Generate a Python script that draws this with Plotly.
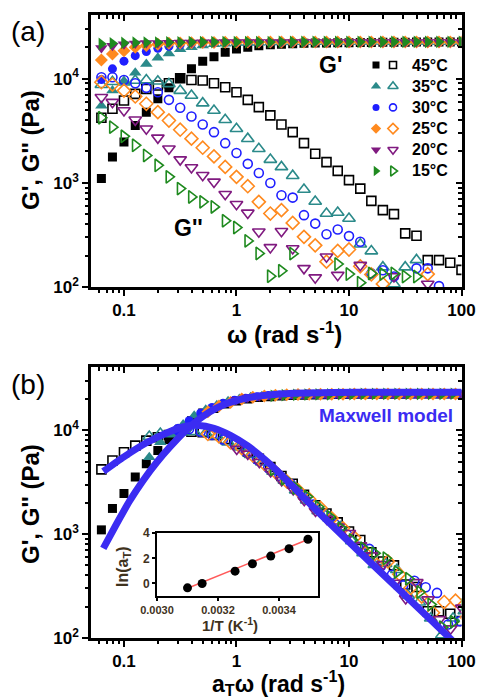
import math
import plotly.graph_objects as go

# ---------------- data ----------------
omega = [0.063, 0.079, 0.1, 0.126, 0.158, 0.2, 0.251, 0.316, 0.398, 0.501, 0.631,
         0.794, 1.0, 1.26, 1.58, 2.0, 2.51, 3.16, 3.98, 5.01, 6.31, 7.94, 10.0,
         12.6, 15.8, 20.0, 25.1, 31.6, 39.8, 50.1, 63.1, 79.4, 100.0]

temps = ["45°C", "35°C", "30°C", "25°C", "20°C", "15°C"]

gp_45 = [1100, 1770, 2460, 3550, 4760, 6400, 8150, 10100, 12400, 14700, 16200, 17900, 19200,
         20000, 20700, 21100, 21400, 21600, 21800, 21900, 22000, 22100, 22100, 22200, 22200,
         22300, 22300, 22300, 22400, 22400, 22400, 22400, 22400]
gp_35 = [5500, 7670, 9330, 11400, 13800, 15800, 17400, 19100, 20000, 20800, 21300, 21600, 21900,
         22000, 22100, 22200, 22200, 22300, 22300, 22300, 22400, 22400, 22400, 22400, 22400,
         22400, 22400, 22400, 22400, 22400, 22400, 22400, 22400]
gp_30 = [9770, 12400, 14700, 16600, 18200, 19500, 20400, 21100, 21600, 21900, 22000, 22100, 22200,
         22200, 22300, 22300, 22400, 22400, 22400, 22400, 22400, 22400, 22400, 22400, 22400,
         22400, 22400, 22400, 22400, 22400, 22400, 22400, 22400]
gp_25 = [15100, 17200, 18500, 20000, 20800, 21400, 21800, 22000, 22100, 22200, 22200, 22300, 22300,
         22400, 22400, 22400, 22400, 22400, 22400, 22400, 22400, 22400, 22400, 22400, 22400,
         22400, 22400, 22400, 22400, 22400, 22400, 22400, 22400]
gp_20 = [19700, 20700, 21300, 21700, 21900, 22000, 22100, 22200, 22200, 22300, 22300, 22400, 22400,
         22400, 22400, 22400, 22400, 22400, 22400, 22400, 22400, 22400, 22400, 22400, 22400,
         22400, 22400, 22400, 22400, 22400, 22400, 22400, 22400]
gp_15 = [21500, 21800, 22000, 22100, 22200, 22200, 22300, 22300, 22400, 22400, 22400, 22400, 22400,
         22400, 22400, 22400, 22500, 22500, 22500, 22500, 22500, 22500, 22500, 22500, 22500,
         22500, 22500, 22500, 22500, 22500, 22500, 22500, 22500]

gpp_45 = [4210, 5130, 6150, 7130, 7960, 8570, 9020, 10070, 9700, 9570, 9020, 8260, 7400, 6250,
          5320, 4430, 3630, 3060, 2400, 1900, 1580, 1300, 1060, 879, 670, 546, 500, 327, 310,
          181, 181, 171, 146]
gpp_35 = [8710, 9330, 9230, 9570, 9700, 9420, 8890, 7670, 6870, 5810, 4940, 4020, 3300, 2650,
          2120, 1670, 1420, 1170, 861, 661, 507, 519, 454, 257, 221, 155, 107, 155, 182,
          None, None, None, None]
gpp_30 = [10300, 10300, 9700, 9020, 8150, 7400, 6250, 5240, 4330, 3630, 3060, 2400, 1930, 1520,
          1240, 995, 759, 721, 489, 406, 321, 356, 308, 272, 135, 145, 126, None, 151, 151, 102,
          None, None]
gpp_25 = [9230, 8770, 7670, 6730, 5730, 4760, 3960, 3230, 2650, 2170, 1790, 1420, 1140, 927,
          656, 507, 546, 412, 303, 251, 175, 222, 229, 158, 132, 107, None, None, None, 133,
          None, None, None]
gpp_20 = [6620, 5940, 4940, 4020, 3300, 2700, 2120, 1670, 1400, 1180, 1020, 776, 622, 514,
          339, 240, 343, 234, 151, 123, 195, 130, None, 162, None, None, 126, None, None, 107,
          None, None, None]
gpp_15 = [4210, 3420, 2790, 2290, 1830, 1470, 1140, 879, 731, 656, 587, 432, 372, 277, 210,
          127, 143, 209, None, None, None, 166, 133, 110, 135, 133, 135, 126, 126,
          None, None, None, None]

# inset: shift factors
inv_T = [0.003100, 0.003148, 0.003256, 0.003313, 0.003373, 0.003433, 0.003495]
ln_aT = [-0.35, 0.0, 0.98, 1.57, 2.18, 2.77, 3.52]
fit_x = [0.003100, 0.003495]
fit_y = [-0.38, 3.50]
# ln(aT) for the six temperatures of panel (a) (45, 35, 30, 25, 20, 15 °C)
ln_aT_temps = [0.0, 0.98, 1.57, 2.18, 2.77, 3.52]

# Maxwell model curves
mx_gp_x = [0.0655, 0.0861, 0.113, 0.1486, 0.195, 0.2564, 0.3365, 0.4426, 0.5808, 0.762,
           1.072, 1.507, 2.98, 11.7, 100.0]
mx_gp_y = [730, 1259, 2113, 3311, 4898, 6918, 9441, 12300, 15140, 17580, 19820, 21280,
           22650, 23230, 23280]
mx_gpp_x = [0.0655, 0.1, 0.1585, 0.251, 0.355, 0.447, 0.631, 0.891, 1.259, 1.778, 2.512,
            3.98, 7.94, 19.95, 39.8, 78.5, 89.1]
mx_gpp_y = [4018, 5560, 7590, 9660, 10960, 11170, 10470, 8910, 7080, 5250, 3720,
            2240, 1070, 412, 202, 100, 87]

gp_all = [gp_45, gp_35, gp_30, gp_25, gp_20, gp_15]
gpp_all = [gpp_45, gpp_35, gpp_30, gpp_25, gpp_20, gpp_15]

# ---------------- styles ----------------
colors = ["#000000", "#2b8a8a", "#1f1fff", "#ff8a1f", "#801a80", "#1f8a1f"]
symbols = ["square", "triangle-up", "circle", "diamond", "triangle-down", "triangle-right"]
msize = [9, 11, 9, 10, 11, 11]
FONT = "Liberation Sans, Arial, sans-serif"
W, H = 478, 700
MODEL_BLUE = "#3b2cf2"
INSET_TXT = "#3f321d"

fig = go.Figure()


def add_series(xaxis, yaxis, xs_list):
    for k in range(6):
        xs = xs_list[k]
        fig.add_trace(go.Scatter(
            x=xs, y=gp_all[k], mode="markers", xaxis=xaxis, yaxis=yaxis, showlegend=False,
            marker=dict(symbol=symbols[k], size=msize[k], color=colors[k], line=dict(width=0)),
            cliponaxis=True))
        fig.add_trace(go.Scatter(
            x=xs, y=gpp_all[k], mode="markers", xaxis=xaxis, yaxis=yaxis, showlegend=False,
            marker=dict(symbol=symbols[k] + "-open", size=msize[k], color=colors[k],
                        line=dict(width=1.6, color=colors[k])),
            cliponaxis=True))


# panel (a)
add_series("x", "y", [omega] * 6)

# panel (b) : shifted data (a_T * omega)
shifted = [[w * math.exp(a) for w in omega] for a in ln_aT_temps]
add_series("x2", "y2", shifted)
fig.add_trace(go.Scatter(x=mx_gp_x, y=mx_gp_y, mode="lines", xaxis="x2", yaxis="y2",
                         line=dict(color=MODEL_BLUE, width=7, shape="spline", smoothing=0.6),
                         showlegend=False))
fig.add_trace(go.Scatter(x=mx_gpp_x, y=mx_gpp_y, mode="lines", xaxis="x2", yaxis="y2",
                         line=dict(color=MODEL_BLUE, width=7, shape="spline", smoothing=0.6),
                         showlegend=False))

# inset
fig.add_trace(go.Scatter(x=fit_x, y=fit_y, mode="lines", xaxis="x3", yaxis="y3",
                         line=dict(color="#ff5a5a", width=1.5), showlegend=False))
fig.add_trace(go.Scatter(x=inv_T, y=ln_aT, mode="markers", xaxis="x3", yaxis="y3",
                         marker=dict(color="black", size=9), showlegend=False))

# legend keys (panel a)
rows = list(range(len(temps)))
for k in range(6):
    fig.add_trace(go.Scatter(x=[0], y=[rows[k]], mode="markers", xaxis="x4", yaxis="y4",
                             marker=dict(symbol=symbols[k], size=msize[k] - 2, color=colors[k]),
                             showlegend=False))
    fig.add_trace(go.Scatter(x=[1], y=[rows[k]], mode="markers", xaxis="x4", yaxis="y4",
                             marker=dict(symbol=symbols[k] + "-open", size=msize[k] - 2,
                                         color=colors[k], line=dict(width=1.6, color=colors[k])),
                             showlegend=False))

# invisible traces for mirror axes
for xa, ya in [("x5", "y5"), ("x6", "y6")]:
    fig.add_trace(go.Scatter(x=[None], y=[None], xaxis=xa, yaxis=ya, showlegend=False,
                             hoverinfo="skip"))

# ---------------- axes ----------------
xr = [-1.293, 2.0]
yr = [2.0, 4.61]
xmaj = [0.1, 1, 10, 100]
xmin = [m * 10 ** d for d in (-2, -1, 0, 1) for m in range(2, 10) if 0.05 < m * 10 ** d < 100]
ymaj = [100, 1000, 10000]
ymin = [m * 10 ** d for d in (2, 3, 4) for m in range(2, 10) if m * 10 ** d < 40000]

dom_x = [91 / W, 461.5 / W]
dom_ya = [1 - 287 / H, 1 - 15 / H]
dom_yb = [1 - 638 / H, 1 - 367 / H]

tickfont = dict(family=FONT, size=17, color="black", weight="bold")


def main_x(dom_anchor):
    return dict(type="log", range=xr, domain=dom_x, anchor=dom_anchor, showline=True,
                linewidth=2.5, linecolor="black", mirror=True, ticks="outside", ticklen=6,
                tickwidth=2, tickcolor="black", tickvals=xmaj,
                ticktext=["0.1", "1", "10", "100"], tickfont=tickfont, showgrid=False,
                zeroline=False,
                minor=dict(tickvals=xmin, ticks="outside", ticklen=3.5, tickwidth=1.5,
                           tickcolor="black", showgrid=False))


def main_y(dom, anchor):
    return dict(type="log", range=yr, domain=dom, anchor=anchor, showline=True,
                linewidth=2.5, linecolor="black", mirror=True, ticks="outside", ticklen=6,
                tickwidth=2, tickcolor="black", tickvals=ymaj,
                ticktext=["10<sup>2</sup>", "10<sup>3</sup>", "10<sup>4</sup>"],
                tickfont=tickfont, showgrid=False, zeroline=False,
                minor=dict(tickvals=ymin, ticks="outside", ticklen=3.5, tickwidth=1.5,
                           tickcolor="black", showgrid=False))


def mirror_x(over, anchor):
    return dict(type="log", range=xr, overlaying=over, side="top", anchor=anchor,
                showline=False, ticks="inside", ticklen=6, tickwidth=2, tickcolor="black",
                tickvals=xmaj, showticklabels=False, showgrid=False, zeroline=False,
                minor=dict(tickvals=xmin, ticks="inside", ticklen=3.5, tickwidth=1.5,
                           tickcolor="black", showgrid=False))


def mirror_y(over, anchor):
    return dict(type="log", range=yr, overlaying=over, side="right", anchor=anchor,
                showline=False, ticks="inside", ticklen=6, tickwidth=2, tickcolor="black",
                tickvals=ymaj, showticklabels=False, showgrid=False, zeroline=False,
                minor=dict(tickvals=ymin, ticks="inside", ticklen=3.5, tickwidth=1.5,
                           tickcolor="black", showgrid=False))


inset_font = dict(family=FONT, size=11, color=INSET_TXT, weight="bold")

fig.update_layout(
    width=W, height=H, margin=dict(l=0, r=0, t=0, b=0, autoexpand=False),
    paper_bgcolor="white", plot_bgcolor="white",
    font=dict(family=FONT, color="black"),
    showlegend=False,
    xaxis=main_x("y"), yaxis=main_y(dom_ya, "x"),
    xaxis2=main_x("y2"), yaxis2=main_y(dom_yb, "x2"),
    xaxis5=mirror_x("x", "y5"), yaxis5=mirror_y("y", "x5"),
    xaxis6=mirror_x("x2", "y6"), yaxis6=mirror_y("y2", "x6"),
    xaxis3=dict(range=[0.00299995, 0.003528], domain=[157 / W, 318 / W], anchor="y3",
                showline=True, linewidth=2, linecolor="black", mirror=True,
                ticks="outside", ticklen=3, tickwidth=1.5, tickcolor="black",
                tickvals=[0.0030, 0.0032, 0.0034], ticktext=["0.0030", "0.0032", "0.0034"],
                tickfont=inset_font, showgrid=False, zeroline=False),
    yaxis3=dict(range=[-1.0, 4.02], domain=[1 - 596 / H, 1 - 533 / H], anchor="x3",
                showline=True, linewidth=2, linecolor="black", mirror=True,
                ticks="outside", ticklen=3, tickwidth=1.5, tickcolor="black",
                tickvals=[0, 2, 4], tickfont=dict(family=FONT, size=12, color=INSET_TXT,
                                                  weight="bold"),
                showgrid=False, zeroline=False),
    xaxis4=dict(range=[-0.5, 1.5], domain=[367.5 / W, 401.5 / W], anchor="y4", visible=False),
    yaxis4=dict(range=[5.5, -0.5], domain=[1 - 181.6 / H, 1 - 54.4 / H], anchor="x4",
                visible=False),
)

ann = []


def txt(x, y, text, size, color="black", angle=0, xanchor="center"):
    ann.append(dict(x=x / W, y=1 - y / H, xref="paper", yref="paper",
                    text=text, showarrow=False, textangle=angle, xanchor=xanchor,
                    yanchor="middle", font=dict(family=FONT, size=size, color=color)))


txt(28, 32, "(a)", 28)
txt(28, 384, "(b)", 28)
txt(30, 150, "<b>G', G'' (Pa)</b>", 24, angle=-90)
txt(30, 504, "<b>G', G'' (Pa)</b>", 24, angle=-90)
txt(284, 333, "<b>ω (rad s<sup>-1</sup>)</b>", 24)
txt(278, 683, "<b>a<sub>T</sub>ω (rad s<sup>-1</sup>)</b>", 23)
txt(330, 65, "<b>G'</b>", 23)
txt(188, 228, "<b>G''</b>", 23)
txt(386, 415, "<b>Maxwell model</b>", 19, color=MODEL_BLUE)
txt(123, 566, "<b>ln(a<sub>T</sub>)</b>", 16, color=INSET_TXT, angle=-90)
txt(230, 624, "<b>1/T (K<sup>-1</sup>)</b>", 15, color=INSET_TXT)

# legend labels, one per row next to the keys
row_top, row_step = 65.0, 21.2
for k in range(6):
    txt(410, row_top + row_step * rows[k], "<b>" + temps[k] + "</b>", 16, xanchor="left")

fig.update_layout(annotations=ann)
fig.write_html("out.html", config={"displayModeBar": False},
               post_script="document.body.style.margin='0px';"
                           "document.body.style.overflow='hidden';")
